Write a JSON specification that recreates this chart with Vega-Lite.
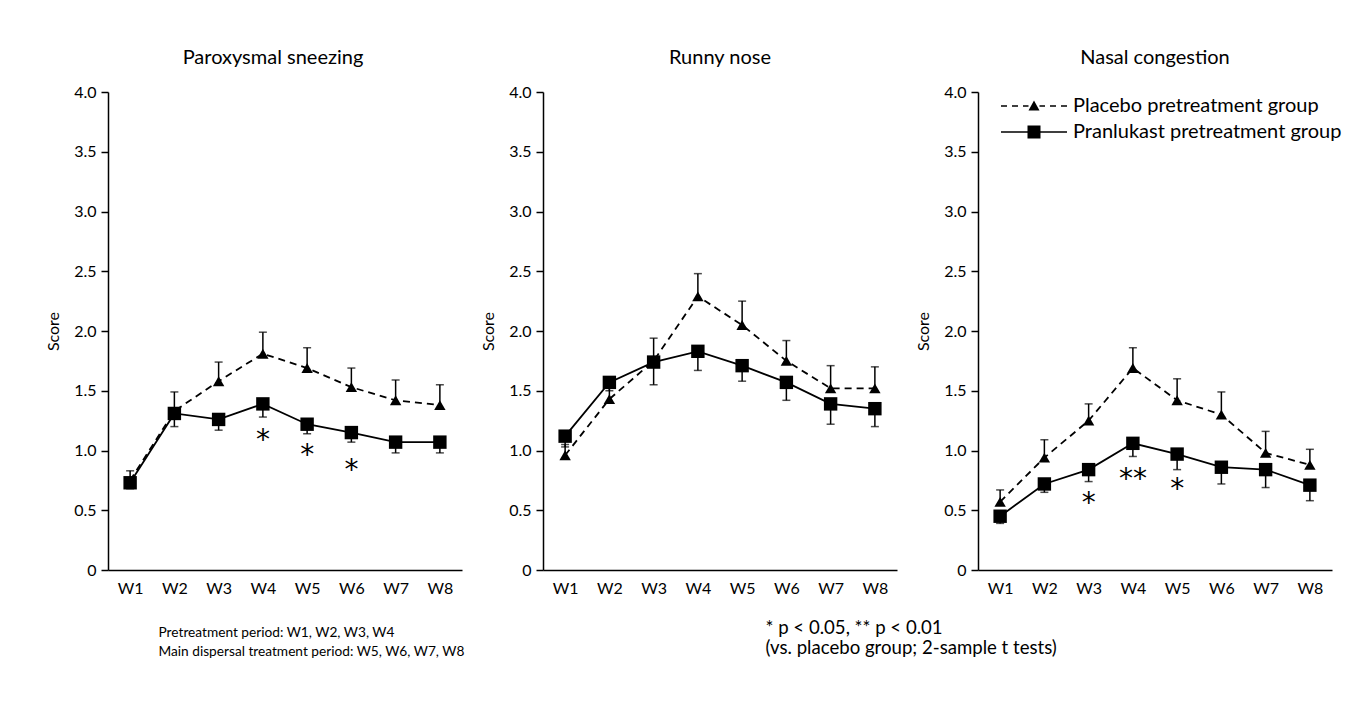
{
  "$schema": "https://vega.github.io/schema/vega-lite/v6.json",
  "background": "white",
  "padding": {"left": 45, "top": 48, "right": 5, "bottom": 5},
  "autosize": {"type": "pad"},
  "config": {
    "font": "Lato",
    "view": {"stroke": null},
    "title": {"fontSize": 20, "fontWeight": "normal", "color": "black", "font": "Lato", "anchor": "middle", "offset": 16},
    "axis": {"domainColor": "black", "domainWidth": 1.5, "tickColor": "black", "tickWidth": 1.5, "labelColor": "black", "titleColor": "black", "labelFont": "Lato", "titleFont": "Lato", "grid": false, "titleFontWeight": "normal"}
  },
  "datasets": {
    "main": [
      {"panel": "Paroxysmal sneezing", "week": "W1", "group": "Placebo pretreatment group", "mean": 0.75, "err": 0.83},
      {"panel": "Paroxysmal sneezing", "week": "W2", "group": "Placebo pretreatment group", "mean": 1.33, "err": 1.49},
      {"panel": "Paroxysmal sneezing", "week": "W3", "group": "Placebo pretreatment group", "mean": 1.58, "err": 1.74},
      {"panel": "Paroxysmal sneezing", "week": "W4", "group": "Placebo pretreatment group", "mean": 1.81, "err": 1.99},
      {"panel": "Paroxysmal sneezing", "week": "W5", "group": "Placebo pretreatment group", "mean": 1.69, "err": 1.86},
      {"panel": "Paroxysmal sneezing", "week": "W6", "group": "Placebo pretreatment group", "mean": 1.53, "err": 1.69},
      {"panel": "Paroxysmal sneezing", "week": "W7", "group": "Placebo pretreatment group", "mean": 1.42, "err": 1.59},
      {"panel": "Paroxysmal sneezing", "week": "W8", "group": "Placebo pretreatment group", "mean": 1.38, "err": 1.55},
      {"panel": "Paroxysmal sneezing", "week": "W1", "group": "Pranlukast pretreatment group", "mean": 0.73, "err": 0.68},
      {"panel": "Paroxysmal sneezing", "week": "W2", "group": "Pranlukast pretreatment group", "mean": 1.31, "err": 1.2},
      {"panel": "Paroxysmal sneezing", "week": "W3", "group": "Pranlukast pretreatment group", "mean": 1.26, "err": 1.17},
      {"panel": "Paroxysmal sneezing", "week": "W4", "group": "Pranlukast pretreatment group", "mean": 1.39, "err": 1.28, "star": "*", "starY": 1.14},
      {"panel": "Paroxysmal sneezing", "week": "W5", "group": "Pranlukast pretreatment group", "mean": 1.22, "err": 1.14, "star": "*", "starY": 1.01},
      {"panel": "Paroxysmal sneezing", "week": "W6", "group": "Pranlukast pretreatment group", "mean": 1.15, "err": 1.07, "star": "*", "starY": 0.89},
      {"panel": "Paroxysmal sneezing", "week": "W7", "group": "Pranlukast pretreatment group", "mean": 1.07, "err": 0.98},
      {"panel": "Paroxysmal sneezing", "week": "W8", "group": "Pranlukast pretreatment group", "mean": 1.07, "err": 0.98},
      {"panel": "Runny nose", "week": "W1", "group": "Placebo pretreatment group", "mean": 0.96, "err": 1.05},
      {"panel": "Runny nose", "week": "W2", "group": "Placebo pretreatment group", "mean": 1.43, "err": 1.53},
      {"panel": "Runny nose", "week": "W3", "group": "Placebo pretreatment group", "mean": 1.75, "err": 1.94},
      {"panel": "Runny nose", "week": "W4", "group": "Placebo pretreatment group", "mean": 2.29, "err": 2.48},
      {"panel": "Runny nose", "week": "W5", "group": "Placebo pretreatment group", "mean": 2.05, "err": 2.25},
      {"panel": "Runny nose", "week": "W6", "group": "Placebo pretreatment group", "mean": 1.75, "err": 1.92},
      {"panel": "Runny nose", "week": "W7", "group": "Placebo pretreatment group", "mean": 1.52, "err": 1.71},
      {"panel": "Runny nose", "week": "W8", "group": "Placebo pretreatment group", "mean": 1.52, "err": 1.7},
      {"panel": "Runny nose", "week": "W1", "group": "Pranlukast pretreatment group", "mean": 1.12, "err": 1.03},
      {"panel": "Runny nose", "week": "W2", "group": "Pranlukast pretreatment group", "mean": 1.57, "err": 1.5},
      {"panel": "Runny nose", "week": "W3", "group": "Pranlukast pretreatment group", "mean": 1.74, "err": 1.55},
      {"panel": "Runny nose", "week": "W4", "group": "Pranlukast pretreatment group", "mean": 1.83, "err": 1.67},
      {"panel": "Runny nose", "week": "W5", "group": "Pranlukast pretreatment group", "mean": 1.71, "err": 1.58},
      {"panel": "Runny nose", "week": "W6", "group": "Pranlukast pretreatment group", "mean": 1.57, "err": 1.42},
      {"panel": "Runny nose", "week": "W7", "group": "Pranlukast pretreatment group", "mean": 1.39, "err": 1.22},
      {"panel": "Runny nose", "week": "W8", "group": "Pranlukast pretreatment group", "mean": 1.35, "err": 1.2},
      {"panel": "Nasal congestion", "week": "W1", "group": "Placebo pretreatment group", "mean": 0.57, "err": 0.67},
      {"panel": "Nasal congestion", "week": "W2", "group": "Placebo pretreatment group", "mean": 0.94, "err": 1.09},
      {"panel": "Nasal congestion", "week": "W3", "group": "Placebo pretreatment group", "mean": 1.25, "err": 1.39},
      {"panel": "Nasal congestion", "week": "W4", "group": "Placebo pretreatment group", "mean": 1.69, "err": 1.86},
      {"panel": "Nasal congestion", "week": "W5", "group": "Placebo pretreatment group", "mean": 1.42, "err": 1.6},
      {"panel": "Nasal congestion", "week": "W6", "group": "Placebo pretreatment group", "mean": 1.3, "err": 1.49},
      {"panel": "Nasal congestion", "week": "W7", "group": "Placebo pretreatment group", "mean": 0.98, "err": 1.16},
      {"panel": "Nasal congestion", "week": "W8", "group": "Placebo pretreatment group", "mean": 0.88, "err": 1.01},
      {"panel": "Nasal congestion", "week": "W1", "group": "Pranlukast pretreatment group", "mean": 0.45, "err": 0.39},
      {"panel": "Nasal congestion", "week": "W2", "group": "Pranlukast pretreatment group", "mean": 0.72, "err": 0.65},
      {"panel": "Nasal congestion", "week": "W3", "group": "Pranlukast pretreatment group", "mean": 0.84, "err": 0.74, "star": "*", "starY": 0.61},
      {"panel": "Nasal congestion", "week": "W4", "group": "Pranlukast pretreatment group", "mean": 1.06, "err": 0.95, "star": "**", "starY": 0.815},
      {"panel": "Nasal congestion", "week": "W5", "group": "Pranlukast pretreatment group", "mean": 0.97, "err": 0.84, "star": "*", "starY": 0.73},
      {"panel": "Nasal congestion", "week": "W6", "group": "Pranlukast pretreatment group", "mean": 0.86, "err": 0.72},
      {"panel": "Nasal congestion", "week": "W7", "group": "Pranlukast pretreatment group", "mean": 0.84, "err": 0.69},
      {"panel": "Nasal congestion", "week": "W8", "group": "Pranlukast pretreatment group", "mean": 0.71, "err": 0.58}
    ]
  },
  "spacing": 81,
  "bounds": "flush",
  "resolve": {
    "scale": {"shape": "independent"},
    "legend": {"shape": "independent"}
  },
  "hconcat": [
    {
      "width": 354, "height": 478,
      "title": {"text": "Paroxysmal sneezing", "dx": -12},
      "data": {"name": "main"},
      "transform": [{"filter": "datum.panel === 'Paroxysmal sneezing'"}],
      "encoding": {
        "x": {"field": "week", "type": "ordinal", "scale": {"type": "point", "padding": 0.5},
          "axis": {"labelAngle": 0, "ticks": false, "labelPadding": 10, "labelFontSize": 16,
            "title": ["Pretreatment period: W1, W2, W3, W4", "Main dispersal treatment period: W5, W6, W7, W8"],
            "titleFontSize": 13.7, "titleX": 50, "titleY": 66, "titleAlign": "left", "titleAnchor": "start", "titleBaseline": "alphabetic", "titleLineHeight": 19}}
      },
      "layer": [
        {"mark": {"type": "rule", "color": "black", "strokeWidth": 1.5},
         "encoding": {"y": {"field": "mean", "type": "quantitative", "scale": {"domain": [0, 4]},
            "axis": {"values": [0, 0.5, 1, 1.5, 2, 2.5, 3, 3.5, 4], "labelExpr": "datum.value === 0 ? '0' : format(datum.value, '.1f')", "title": "Score", "tickSize": 7, "labelPadding": 5, "labelFontSize": 16, "titleFontSize": 16, "titlePadding": 12}},
           "y2": {"field": "err"}}},
        {"mark": {"type": "tick", "color": "black", "thickness": 1.5, "size": 8, "orient": "horizontal"},
         "encoding": {"y": {"field": "err", "type": "quantitative", "title": "Score"}}},
        {"transform": [{"filter": "datum.group === 'Placebo pretreatment group'"}],
         "mark": {"type": "line", "color": "black", "strokeWidth": 1.8, "strokeDash": [7, 5]},
         "encoding": {"y": {"field": "mean", "type": "quantitative", "title": "Score"}}},
        {"transform": [{"filter": "datum.group === 'Pranlukast pretreatment group'"}],
         "mark": {"type": "line", "color": "black", "strokeWidth": 1.8},
         "encoding": {"y": {"field": "mean", "type": "quantitative", "title": "Score"}}},
        {"transform": [{"filter": "datum.group === 'Placebo pretreatment group'"}],
         "mark": {"type": "point", "filled": true, "color": "black", "opacity": 1, "shape": "triangle-up", "size": 130},
         "encoding": {"y": {"field": "mean", "type": "quantitative", "title": "Score"}}},
        {"transform": [{"filter": "datum.group === 'Pranlukast pretreatment group'"}],
         "mark": {"type": "point", "filled": true, "color": "black", "opacity": 1, "shape": "square", "size": 180},
         "encoding": {"y": {"field": "mean", "type": "quantitative", "title": "Score"}}},
        {"transform": [{"filter": "datum.star != null"}],
         "mark": {"type": "text", "fontSize": 28, "font": "DejaVu Sans", "color": "black", "baseline": "alphabetic", "dy": 15},
         "encoding": {"y": {"field": "starY", "type": "quantitative", "title": "Score"}, "text": {"field": "star"}}}
      ]
    },
    {
      "width": 354, "height": 478,
      "title": "Runny nose",
      "data": {"name": "main"},
      "transform": [{"filter": "datum.panel === 'Runny nose'"}],
      "encoding": {
        "x": {"field": "week", "type": "ordinal", "scale": {"type": "point", "padding": 0.5},
          "axis": {"labelAngle": 0, "ticks": false, "labelPadding": 10, "labelFontSize": 16,
            "title": ["* p < 0.05, ** p < 0.01", "(vs. placebo group; 2-sample t tests)"],
            "titleFontSize": 18.6, "titleX": 222, "titleY": 63, "titleAlign": "left", "titleAnchor": "start", "titleBaseline": "alphabetic", "titleLineHeight": 20}}
      },
      "layer": [
        {"mark": {"type": "rule", "color": "black", "strokeWidth": 1.5},
         "encoding": {"y": {"field": "mean", "type": "quantitative", "scale": {"domain": [0, 4]},
            "axis": {"values": [0, 0.5, 1, 1.5, 2, 2.5, 3, 3.5, 4], "labelExpr": "datum.value === 0 ? '0' : format(datum.value, '.1f')", "title": "Score", "tickSize": 7, "labelPadding": 5, "labelFontSize": 16, "titleFontSize": 16, "titlePadding": 12}},
           "y2": {"field": "err"}}},
        {"mark": {"type": "tick", "color": "black", "thickness": 1.5, "size": 8, "orient": "horizontal"},
         "encoding": {"y": {"field": "err", "type": "quantitative", "title": "Score"}}},
        {"transform": [{"filter": "datum.group === 'Placebo pretreatment group'"}],
         "mark": {"type": "line", "color": "black", "strokeWidth": 1.8, "strokeDash": [7, 5]},
         "encoding": {"y": {"field": "mean", "type": "quantitative", "title": "Score"}}},
        {"transform": [{"filter": "datum.group === 'Pranlukast pretreatment group'"}],
         "mark": {"type": "line", "color": "black", "strokeWidth": 1.8},
         "encoding": {"y": {"field": "mean", "type": "quantitative", "title": "Score"}}},
        {"transform": [{"filter": "datum.group === 'Placebo pretreatment group'"}],
         "mark": {"type": "point", "filled": true, "color": "black", "opacity": 1, "shape": "triangle-up", "size": 130},
         "encoding": {"y": {"field": "mean", "type": "quantitative", "title": "Score"}}},
        {"transform": [{"filter": "datum.group === 'Pranlukast pretreatment group'"}],
         "mark": {"type": "point", "filled": true, "color": "black", "opacity": 1, "shape": "square", "size": 180},
         "encoding": {"y": {"field": "mean", "type": "quantitative", "title": "Score"}}}
      ]
    },
    {
      "width": 354, "height": 478,
      "title": "Nasal congestion",
      "data": {"name": "main"},
      "transform": [{"filter": "datum.panel === 'Nasal congestion'"}],
      "encoding": {
        "x": {"field": "week", "type": "ordinal", "scale": {"type": "point", "padding": 0.5},
          "axis": {"labelAngle": 0, "ticks": false, "labelPadding": 10, "labelFontSize": 16, "title": null}}
      },
      "layer": [
        {"mark": {"type": "rule", "color": "black", "strokeWidth": 1.5},
         "encoding": {"y": {"field": "mean", "type": "quantitative", "scale": {"domain": [0, 4]},
            "axis": {"values": [0, 0.5, 1, 1.5, 2, 2.5, 3, 3.5, 4], "labelExpr": "datum.value === 0 ? '0' : format(datum.value, '.1f')", "title": "Score", "tickSize": 7, "labelPadding": 5, "labelFontSize": 16, "titleFontSize": 16, "titlePadding": 12}},
           "y2": {"field": "err"}}},
        {"mark": {"type": "tick", "color": "black", "thickness": 1.5, "size": 8, "orient": "horizontal"},
         "encoding": {"y": {"field": "err", "type": "quantitative", "title": "Score"}}},
        {"transform": [{"filter": "datum.group === 'Placebo pretreatment group'"}],
         "mark": {"type": "line", "color": "black", "strokeWidth": 1.8, "strokeDash": [7, 5]},
         "encoding": {"y": {"field": "mean", "type": "quantitative", "title": "Score"}}},
        {"transform": [{"filter": "datum.group === 'Pranlukast pretreatment group'"}],
         "mark": {"type": "line", "color": "black", "strokeWidth": 1.8},
         "encoding": {"y": {"field": "mean", "type": "quantitative", "title": "Score"}}},
        {"transform": [{"filter": "datum.group === 'Placebo pretreatment group'"}],
         "mark": {"type": "point", "filled": true, "color": "black", "opacity": 1, "shape": "triangle-up", "size": 130},
         "encoding": {"y": {"field": "mean", "type": "quantitative", "title": "Score"}}},
        {"transform": [{"filter": "datum.group === 'Pranlukast pretreatment group'"}],
         "mark": {"type": "point", "filled": true, "color": "black", "opacity": 1, "shape": "square", "size": 180},
         "encoding": {"y": {"field": "mean", "type": "quantitative", "title": "Score"}}},
        {"transform": [{"filter": "datum.week === 'none'"}],
         "mark": {"type": "point", "filled": true, "color": "black", "opacity": 1},
         "encoding": {"y": {"field": "mean", "type": "quantitative", "title": "Score"},
           "shape": {"field": "group", "type": "nominal", "title": null,
             "scale": {"domain": ["Placebo pretreatment group", "Pranlukast pretreatment group"],
               "range": ["M-6.6,-0.16H-5.4V0.16H-6.6ZM-4.4,-0.16H-3.2V0.16H-4.4ZM-2.2,-0.16H-1.1V0.16H-2.2ZM1.1,-0.16H2.2V0.16H1.1ZM3.2,-0.16H4.4V0.16H3.2ZM5.4,-0.16H6.6V0.16H5.4ZM-1.1,0.9L0,-1.1L1.1,0.9Z", "M-6.6,-0.16H6.6V0.16H-6.6ZM-1.3,-1.3H1.3V1.3H-1.3Z"]},
             "legend": {"orient": "none", "legendX": 46, "legendY": 4, "title": null, "labelFontSize": 20, "labelFont": "Lato", "labelColor": "black", "labelLimit": 0, "symbolSize": 100, "labelOffset": 29, "rowPadding": 6, "padding": 0, "symbolFillColor": "black", "symbolOpacity": 1, "symbolStrokeWidth": 0}}}},
        {"transform": [{"filter": "datum.star != null"}],
         "mark": {"type": "text", "fontSize": 28, "font": "DejaVu Sans", "color": "black", "baseline": "alphabetic", "dy": 15},
         "encoding": {"y": {"field": "starY", "type": "quantitative", "title": "Score"}, "text": {"field": "star"}}}
      ]
    }
  ]
}
